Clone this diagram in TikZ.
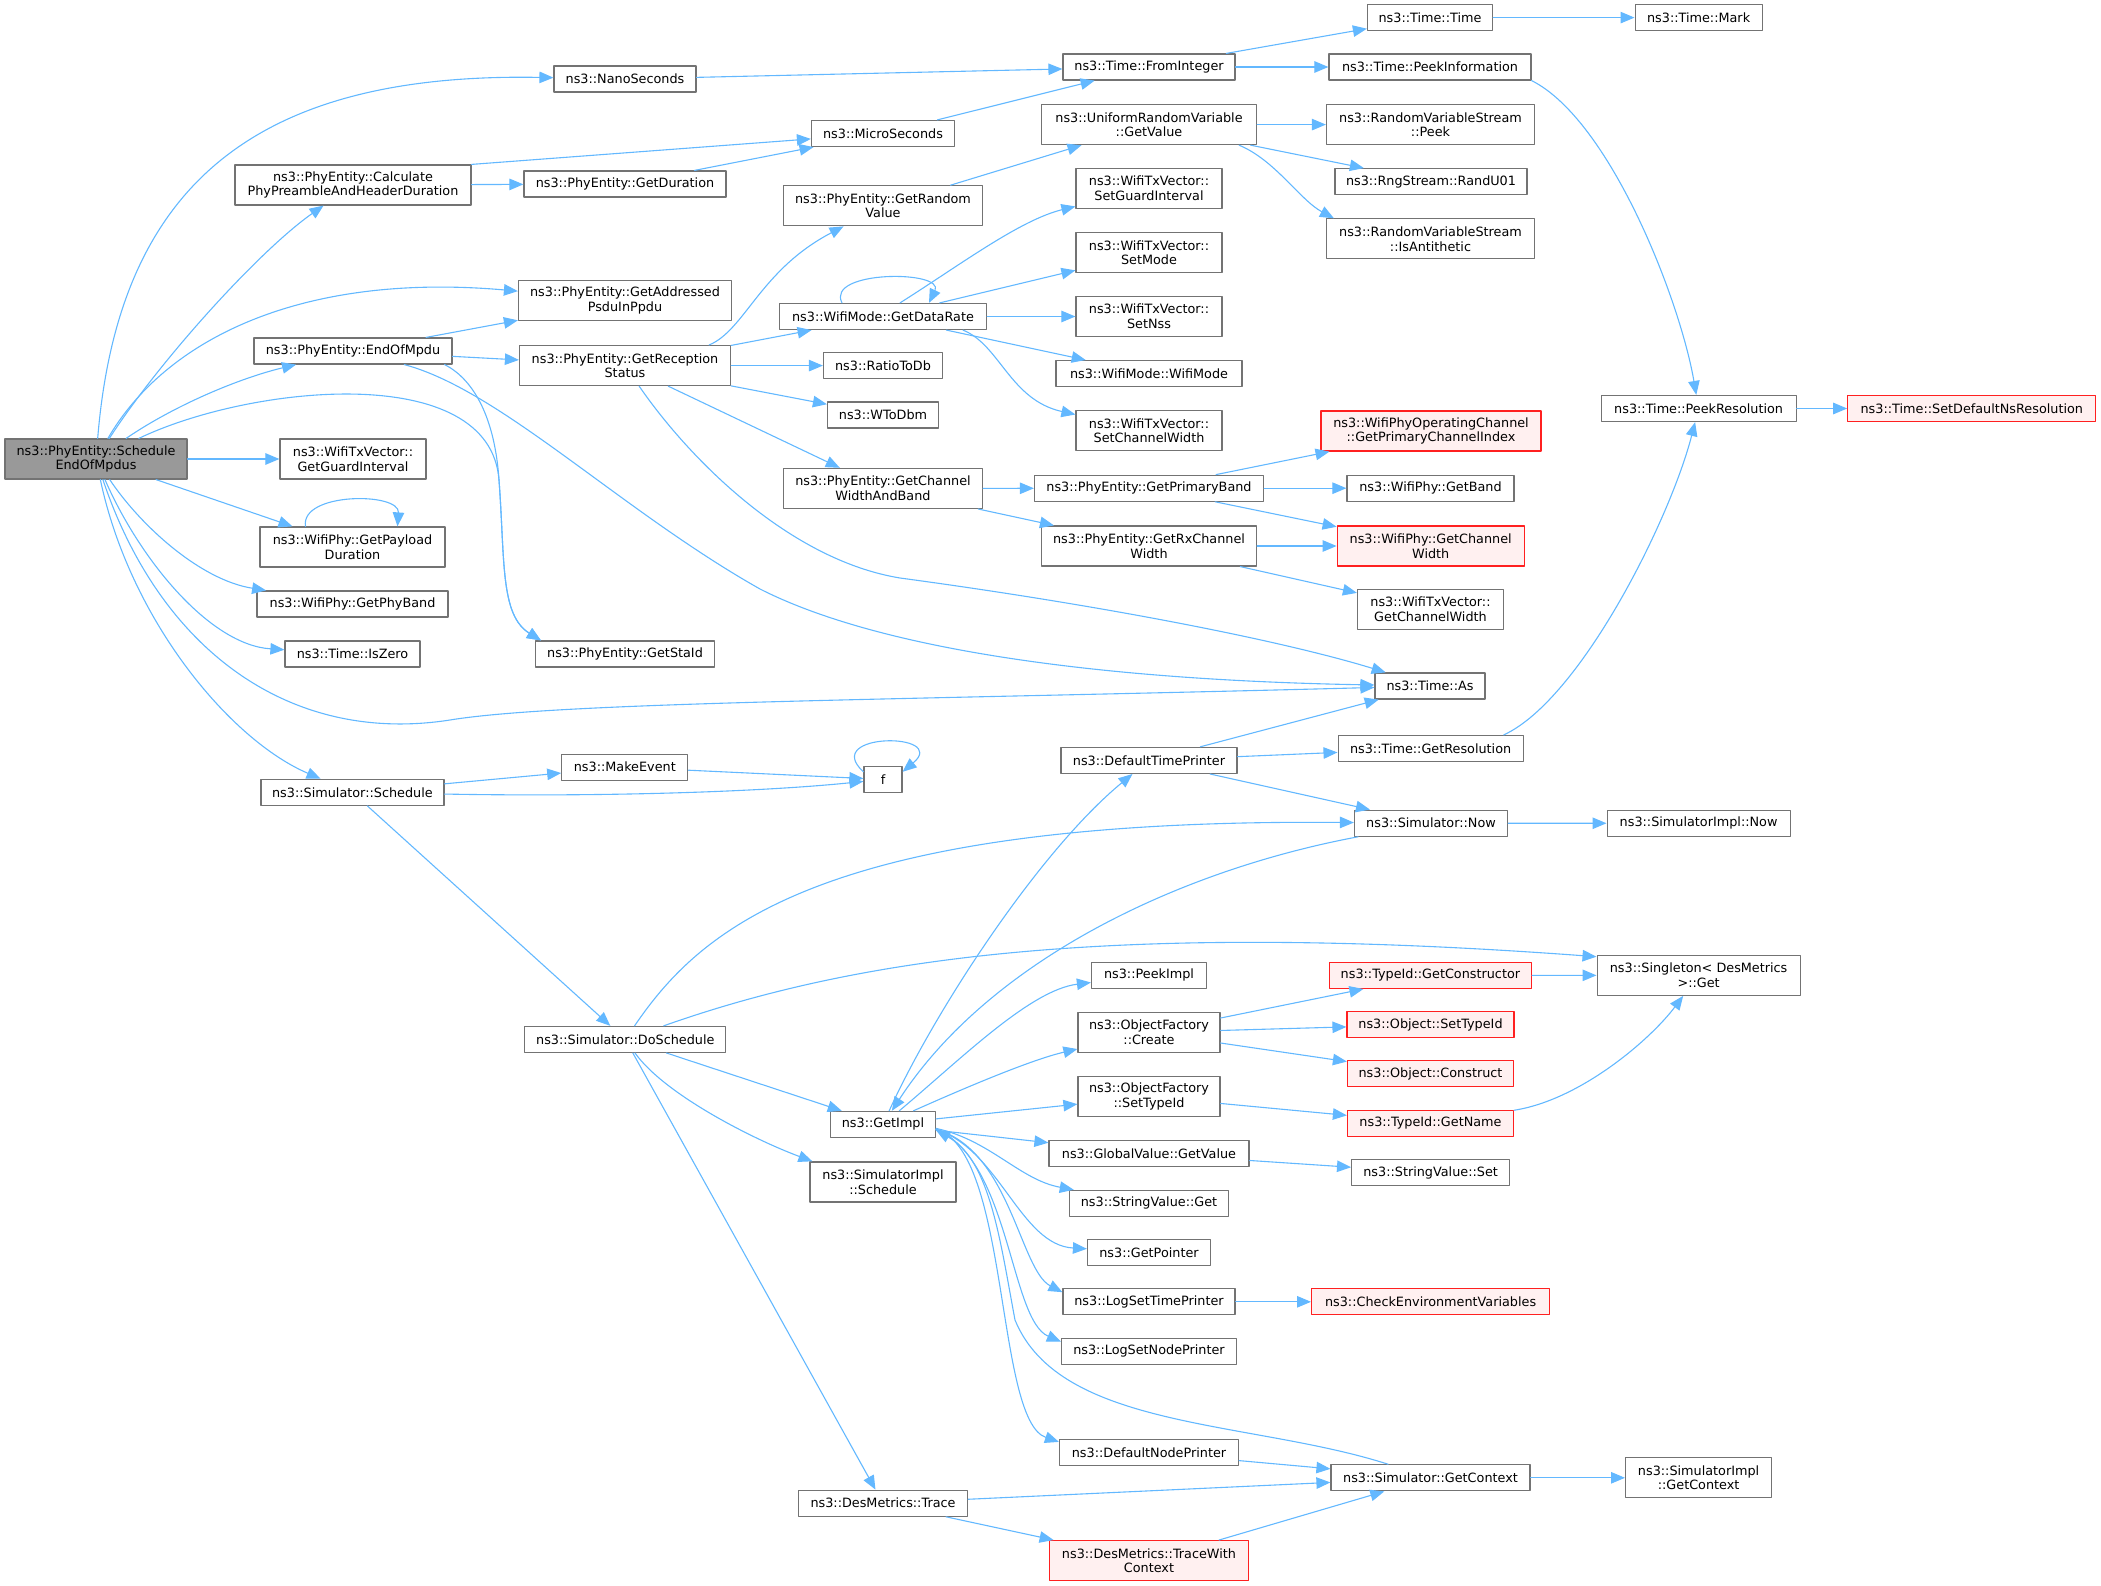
\documentclass[tikz,border=0pt]{standalone}
\usepackage{fontspec}
\setmainfont{DejaVu Sans}
\usetikzlibrary{arrows.meta}
\definecolor{callblue}{HTML}{63B8FF}
\definecolor{fngray}{HTML}{737373}
\definecolor{rootgray}{HTML}{999999}
\definecolor{missred}{HTML}{FF2020}
\definecolor{misspink}{HTML}{FFF0F0}
\tikzstyle{every node}=[font=\fontsize{12.8}{14.7}\selectfont]
\tikzstyle{every path}=[line width=1.1pt,line cap=round,line join=round]
\tikzstyle{fn}=[draw=fngray,fill=white,line width=1.2pt,inner sep=0pt,minimum height=26pt,align=center]
\tikzstyle{fn2}=[fn,minimum height=40pt]
\tikzstyle{fnroot}=[fn2,fill=rootgray]
\tikzstyle{fnred}=[fn,draw=missred,fill=misspink]
\tikzstyle{fnred2}=[fnred,minimum height=40pt]
\tikzstyle{call}=[draw=callblue,-{Triangle[length=14pt,width=11.5pt]}]
\begin{document}
\begin{tikzpicture}[x=1pt,y=-1pt]
  \useasboundingbox (0,0) rectangle (2101,1586);
  % functions
  \node[fnroot,minimum width=182pt] (root) at (96,459) {ns3::PhyEntity::Schedule\\EndOfMpdus};
  \node[fn,minimum width=142pt] (nano) at (625,79) {ns3::NanoSeconds};
  \node[fn2,minimum width=236pt] (calc) at (353,185) {ns3::PhyEntity::Calculate\\PhyPreambleAndHeaderDuration};
  \node[fn,minimum width=202pt] (getdur) at (625,184) {ns3::PhyEntity::GetDuration};
  \node[fn2,minimum width=213pt] (addr) at (625,300.5) {ns3::PhyEntity::GetAddressed\\PsduInPpdu};
  \node[fn,minimum width=198pt] (endmpdu) at (353,351) {ns3::PhyEntity::EndOfMpdu};
  \node[fn2,minimum width=211pt] (recep) at (625,365.6) {ns3::PhyEntity::GetReception\\Status};
  \node[fn2,minimum width=146pt] (guard) at (353,459) {ns3::WifiTxVector::\\GetGuardInterval};
  \node[fn2,minimum width=185pt] (payload) at (352.5,547) {ns3::WifiPhy::GetPayload\\Duration};
  \node[fn,minimum width=191pt] (phyband) at (352.5,604) {ns3::WifiPhy::GetPhyBand};
  \node[fn,minimum width=135pt] (iszero) at (352.5,654) {ns3::Time::IsZero};
  \node[fn,minimum width=179pt] (staid) at (625,654) {ns3::PhyEntity::GetStaId};
  \node[fn,minimum width=125pt] (ttime) at (1430,17.6) {ns3::Time::Time};
  \node[fn,minimum width=172pt] (fromint) at (1149,67) {ns3::Time::FromInteger};
  \node[fn,minimum width=202pt] (peekinfo) at (1430,67) {ns3::Time::PeekInformation};
  \node[fn,minimum width=143pt] (micro) at (883,133.5) {ns3::MicroSeconds};
  \node[fn2,minimum width=215pt] (uniform) at (1149,124.6) {ns3::UniformRandomVariable\\::GetValue};
  \node[fn2,minimum width=208pt] (peek) at (1430.5,124.6) {ns3::RandomVariableStream\\::Peek};
  \node[fn,minimum width=192pt] (randu) at (1431,181.7) {ns3::RngStream::RandU01};
  \node[fn2,minimum width=208pt] (antith) at (1430.5,238.9) {ns3::RandomVariableStream\\::IsAntithetic};
  \node[fn2,minimum width=199pt] (randval) at (883,205.8) {ns3::PhyEntity::GetRandom\\Value};
  \node[fn2,minimum width=146pt] (setgi) at (1149,188.4) {ns3::WifiTxVector::\\SetGuardInterval};
  \node[fn2,minimum width=146pt] (setmode) at (1149,252.7) {ns3::WifiTxVector::\\SetMode};
  \node[fn,minimum width=207pt] (datarate) at (883,316.5) {ns3::WifiMode::GetDataRate};
  \node[fn2,minimum width=146pt] (setnss) at (1149,316.5) {ns3::WifiTxVector::\\SetNss};
  \node[fn,minimum width=119pt] (ratio) at (883,365.6) {ns3::RatioToDb};
  \node[fn,minimum width=186pt] (wifimode) at (1149,373.6) {ns3::WifiMode::WifiMode};
  \node[fn,minimum width=111pt] (wtodbm) at (883,415) {ns3::WToDbm};
  \node[fn2,minimum width=146pt] (setcw) at (1149,430.8) {ns3::WifiTxVector::\\SetChannelWidth};
  \node[fnred2,minimum width=220pt] (primidx) at (1431,431) {ns3::WifiPhyOperatingChannel\\::GetPrimaryChannelIndex};
  \node[fn2,minimum width=199pt] (cwband) at (883,488.4) {ns3::PhyEntity::GetChannel\\WidthAndBand};
  \node[fn,minimum width=229pt] (primband) at (1149,488.2) {ns3::PhyEntity::GetPrimaryBand};
  \node[fn,minimum width=167pt] (getband) at (1430.5,488.2) {ns3::WifiPhy::GetBand};
  \node[fn2,minimum width=215pt] (rxcw) at (1149,546) {ns3::PhyEntity::GetRxChannel\\Width};
  \node[fnred2,minimum width=187pt] (phycw) at (1430.7,546) {ns3::WifiPhy::GetChannel\\Width};
  \node[fn2,minimum width=146pt] (txcw) at (1430.5,609.4) {ns3::WifiTxVector::\\GetChannelWidth};
  \node[fn,minimum width=110pt] (as) at (1430,686) {ns3::Time::As};
  \node[fn,minimum width=127pt] (mark) at (1698.6,17.6) {ns3::Time::Mark};
  \node[fn,minimum width=195pt] (peekres) at (1698.6,408.5) {ns3::Time::PeekResolution};
  \node[fnred,minimum width=248pt] (setdefns) at (1971.8,408.5) {ns3::Time::SetDefaultNsResolution};
  \node[fn,minimum width=38pt] (f) at (883,779.4) {f};
  \node[fn,minimum width=176pt] (dtp) at (1149,760.4) {ns3::DefaultTimePrinter};
  \node[fn,minimum width=185pt] (getres) at (1430.6,748.5) {ns3::Time::GetResolution};
  \node[fn,minimum width=153pt] (simnow) at (1431,823.2) {ns3::Simulator::Now};
  \node[fn,minimum width=183pt] (implnow) at (1698.6,823.3) {ns3::SimulatorImpl::Now};
  \node[fn,minimum width=115pt] (peekimpl) at (1149,975.4) {ns3::PeekImpl};
  \node[fn2,minimum width=142pt] (ofcreate) at (1149,1032.5) {ns3::ObjectFactory\\::Create};
  \node[fnred,minimum width=202pt] (getctor) at (1430.4,975.4) {ns3::TypeId::GetConstructor};
  \node[fnred,minimum width=167pt] (objsettid) at (1430.5,1024.5) {ns3::Object::SetTypeId};
  \node[fnred,minimum width=166pt] (construct) at (1430.5,1073.8) {ns3::Object::Construct};
  \node[fn2,minimum width=142pt] (ofsettid) at (1149,1096.7) {ns3::ObjectFactory\\::SetTypeId};
  \node[fnred,minimum width=166pt] (getname) at (1430.5,1123.2) {ns3::TypeId::GetName};
  \node[fn,minimum width=105pt] (getimpl) at (883,1124.4) {ns3::GetImpl};
  \node[fn2,minimum width=203pt] (singleton) at (1698.6,975.3) {ns3::Singleton< DesMetrics\\>::Get};
  \node[fn,minimum width=183pt] (simsched) at (352.4,792.3) {ns3::Simulator::Schedule};
  \node[fn,minimum width=126pt] (makeevent) at (624.8,767.2) {ns3::MakeEvent};
  \node[fn,minimum width=201pt] (dosched) at (625.3,1039.4) {ns3::Simulator::DoSchedule};
  \node[fn2,minimum width=146pt] (implsched) at (883,1181.9) {ns3::SimulatorImpl\\::Schedule};
  \node[fn,minimum width=200pt] (gvget) at (1149,1153.8) {ns3::GlobalValue::GetValue};
  \node[fn,minimum width=158pt] (svset) at (1430.6,1172.5) {ns3::StringValue::Set};
  \node[fn,minimum width=159pt] (svget) at (1149,1203.3) {ns3::StringValue::Get};
  \node[fn,minimum width=123pt] (getptr) at (1149,1252.3) {ns3::GetPointer};
  \node[fn,minimum width=172pt] (logtime) at (1149,1301.8) {ns3::LogSetTimePrinter};
  \node[fnred,minimum width=238pt] (checkenv) at (1430.6,1301.8) {ns3::CheckEnvironmentVariables};
  \node[fn,minimum width=175pt] (lognode) at (1149,1351.2) {ns3::LogSetNodePrinter};
  \node[fn,minimum width=179pt] (dnp) at (1149,1452.5) {ns3::DefaultNodePrinter};
  \node[fn,minimum width=199pt] (getctx) at (1430.5,1477.8) {ns3::Simulator::GetContext};
  \node[fn,minimum width=169pt] (trace) at (883,1503.2) {ns3::DesMetrics::Trace};
  \node[fnred2,minimum width=199pt] (tracectx) at (1149,1560.6) {ns3::DesMetrics::TraceWith\\Context};
  \node[fn2,minimum width=146pt] (implctx) at (1698.6,1477.8) {ns3::SimulatorImpl\\::GetContext};
  % calls from the root
  \draw[call] (root) .. controls (118,190) and (250,72) .. (nano);
  \draw[call] (root) .. controls (160,360) and (260,250) .. (calc);
  \draw[call] (root) .. controls (165,340) and (300,272) .. (addr);
  \draw[call] (root) .. controls (175,405) and (240,378) .. (endmpdu);
  \draw[call] (root) -- (guard);
  \draw[call] (root) -- (payload);
  \draw[call] (root) .. controls (140,525) and (200,580) .. (phyband);
  \draw[call] (root) .. controls (140,560) and (210,645) .. (iszero);
  \draw[call] (root) .. controls (250,385) and (490,360) .. (499,480) .. controls (505,560) and (500,615) .. ([xshift=6pt]staid.north west);
  \draw[call] (root) .. controls (160,650) and (290,745) .. (450,720) .. controls (560,702) and (900,700) .. (as);
  \draw[call] (root) .. controls (130,620) and (230,740) .. (simsched);
  %
  \draw[call] (calc.north east) -- (micro);
  \draw[call] (calc) -- (getdur);
  \draw[call] (getdur) -- (micro);
  \draw[call] (nano) -- (fromint);
  \draw[call] (micro) -- (fromint);
  \draw[call] (fromint) -- (ttime);
  \draw[call] (fromint) -- (peekinfo);
  \draw[call] (ttime) -- (mark);
  \draw[call] (peekinfo.south east) .. controls (1610,120) and (1680,300) .. (peekres);
  \draw[call] (peekres) -- (setdefns);
  %
  \draw[call] (endmpdu) -- (addr);
  \draw[call] (endmpdu) -- (recep);
  \draw[call] ([xshift=-8pt]endmpdu.south east) .. controls (475,380) and (495,420) .. (499,480) .. controls (505,560) and (500,615) .. ([xshift=6pt]staid.north west);
  \draw[call] (endmpdu) .. controls (500,390) and (620,510) .. (760,589) .. controls (880,650) and (1100,680) .. (as);
  %
  \draw[call] ([xshift=-22pt]recep.north east) .. controls (745,330) and (760,270) .. (randval);
  \draw[call] (recep) -- (datarate);
  \draw[call] (recep) -- (ratio);
  \draw[call] (recep) -- (wtodbm);
  \draw[call] (recep) -- (cwband);
  \draw[call] (recep) .. controls (690,460) and (790,560) .. (900,578) .. controls (1100,605) and (1280,640) .. (as);
  \draw[call] (randval) -- (uniform);
  \draw[call] (uniform) -- (peek);
  \draw[call] (uniform) -- (randu);
  \draw[call] ([xshift=-18pt]uniform.south east) .. controls (1275,160) and (1300,200) .. ([xshift=8pt]antith.north west);
  %
  \draw[call] ([xshift=-41pt]datarate.north) .. controls (825,270) and (945,270) .. ([xshift=46pt]datarate.north);
  \draw[call] ([xshift=17pt]datarate.north) .. controls (960,265) and (1020,220) .. (setgi);
  \draw[call] (datarate) -- (setmode);
  \draw[call] (datarate) -- (setnss);
  \draw[call] (datarate) -- (wifimode);
  \draw[call] ([xshift=80pt]datarate.south) .. controls (1000,345) and (1010,400) .. (setcw);
  %
  \draw[call] (cwband) -- (primband);
  \draw[call] (cwband) -- (rxcw);
  \draw[call] (primband) -- (primidx);
  \draw[call] (primband) -- (getband);
  \draw[call] (primband) -- (phycw);
  \draw[call] (rxcw) -- (phycw);
  \draw[call] (rxcw) -- (txcw);
  \draw[call] ([xshift=-47pt]payload.north) .. controls (300,492) and (400,492) .. ([xshift=45pt]payload.north);
  % simulator side
  \draw[call] (simsched) -- (makeevent);
  \draw[call] (simsched) .. controls (600,797) and (760,792) .. (f);
  \draw[call] (simsched) -- (dosched);
  \draw[call] (makeevent) -- (f);
  \draw[call] ([yshift=-6pt]f.north west) .. controls (820,732) and (950,732) .. ([yshift=-6pt]f.north east);
  \draw[call] (dosched) .. controls (700,930) and (820,818) .. (simnow);
  \draw[call] (dosched) .. controls (850,960) and (1100,920) .. ([yshift=-2pt]singleton.north west);
  \draw[call] (dosched) -- (getimpl);
  \draw[call] (dosched) .. controls (665,1095) and (755,1140) .. ([xshift=3pt]implsched.north west);
  \draw[call] (dosched) -- (trace);
  %
  \draw[call] (dtp) -- (as);
  \draw[call] (dtp) -- (getres);
  \draw[call] (dtp) -- (simnow);
  \draw[call] ([xshift=-20pt]getres.north east) .. controls (1580,700) and (1670,520) .. (peekres);
  \draw[call] (simnow) -- (implnow);
  \draw[call] (simnow) .. controls (1180,870) and (990,960) .. (getimpl);
  %
  \draw[call] (getimpl) .. controls (935,1010) and (1040,850) .. (dtp);
  \draw[call] (getimpl) .. controls (960,1060) and (1030,990) .. (peekimpl);
  \draw[call] (getimpl) .. controls (960,1090) and (1030,1060) .. (ofcreate);
  \draw[call] (getimpl) -- (ofsettid);
  \draw[call] (getimpl) -- (gvget);
  \draw[call] ([yshift=-4pt]getimpl.east) .. controls (990,1140) and (1020,1180) .. (svget);
  \draw[call] ([yshift=-5pt]getimpl.east) .. controls (1000,1150) and (1020,1245) .. (getptr);
  \draw[call] ([yshift=-5pt]getimpl.east) .. controls (1010,1150) and (1020,1270) .. ([yshift=-4pt]logtime.north west);
  \draw[call] ([yshift=-5pt]getimpl.east) .. controls (1010,1160) and (1010,1320) .. ([yshift=-4pt]lognode.north west);
  \draw[call] ([yshift=-5pt]getimpl.east) .. controls (1010,1150) and (995,1420) .. ([yshift=-3pt]dnp.north west);
  \draw[call] (getctx) .. controls (1250,1420) and (1060,1430) .. (1015,1320) .. controls (1000,1240) and (990,1160) .. ([yshift=-6pt]getimpl.east);
  %
  \draw[call] (ofcreate) -- (getctor);
  \draw[call] (ofcreate) -- (objsettid);
  \draw[call] (ofcreate) -- (construct);
  \draw[call] (ofsettid) -- (getname);
  \draw[call] (getctor) -- (singleton);
  \draw[call] (getname) .. controls (1580,1100) and (1650,1040) .. (singleton);
  \draw[call] (gvget) -- (svset);
  \draw[call] (logtime) -- (checkenv);
  \draw[call] (dnp) -- (getctx);
  \draw[call] (getctx) -- (implctx);
  \draw[call] (trace) -- (getctx);
  \draw[call] (trace) -- (tracectx);
  \draw[call] (tracectx) -- (getctx);
\end{tikzpicture}
\end{document}
